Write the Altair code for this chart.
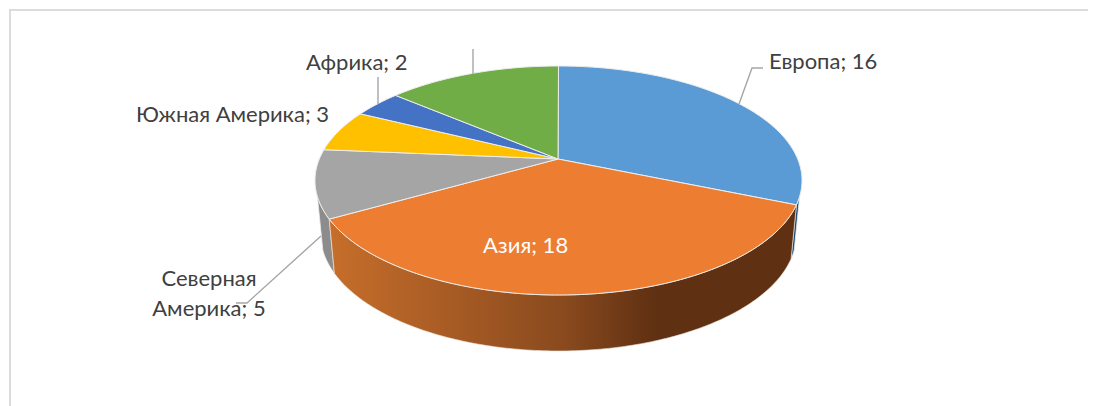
import numpy as np
import pandas as pd
import altair as alt

categories = ["Европа", "Азия", "Северная Америка", "Южная Америка", "Африка", "Австралия"]
values = [16, 18, 5, 3, 2, 6]
colors = ["#5B9BD5", "#ED7D31", "#A5A5A5", "#FFC000", "#4472C4", "#70AD47"]

label_lines = ["Европа; 16", "Африка; 2", "Южная Америка; 3", "Северная", "Америка; 5", "Азия; 18"]
label_x = [769, 306, 136, 209, 209, 483]
label_y = [62, 63, 115, 279, 309, 246]
label_align = ["left", "left", "left", "center", "center", "left"]
label_color = ["#404040", "#404040", "#404040", "#404040", "#404040", "#FFFFFF"]

leaders = [
    [(739, 104), (752, 68), (763, 68)],
    [(378, 77), (378, 104)],
    [(473, 49), (473, 74)],
    [(321, 236), (247, 303), (236, 303)],
]

# Projection of the tilted disc (picture pixels, page margin included)
CX, CY, RX, RY = 558.5, 180.5, 243.5, 114.5
CXB, CYB, RXB, RYB = 558.5, 234.0, 238.0, 117.0
PIVOT = (558.0, 159.0)

cum = np.cumsum([0] + values) / sum(values) * 360.0
warped = [0.0, 102.3, 250.3, 285.6, 305.6, 318.0, 360.0]


def warp(a):
    return float(np.interp(a, cum, warped))


def rim(t, bottom=False):
    r = np.radians(t)
    if bottom:
        return CXB + RXB * np.sin(r), CYB - RYB * np.cos(r)
    return CX + RX * np.sin(r), CY - RY * np.cos(r)


def arc(a, b, bottom=False):
    n = max(2, int(abs(b - a)) + 2)
    return [rim(t, bottom) for t in np.linspace(a, b, n)]


X = alt.X("x:Q", scale=alt.Scale(domain=[8, 1088], nice=False, zero=False), axis=None)
Y = alt.Y("y:Q", scale=alt.Scale(domain=[406, 8], nice=False, zero=False), axis=None)


def poly(points, **mark):
    df = pd.DataFrame(points, columns=["x", "y"])
    df["i"] = range(len(df))
    return alt.Chart(df).mark_line(interpolate="linear", clip=False, **mark).encode(
        x=X, y=Y, order=alt.Order("i:Q")
    )


layers = []

# frame
layers.append(poly([(10, 406), (10, 10), (1088, 10)], stroke="#DCDCDC", strokeWidth=2))

# sides
t_eu = warp(cum[1])
t_as = warp(cum[2])
sliver = arc(98, t_eu) + arc(t_eu, 98, True)
layers.append(poly(sliver + [sliver[0]], fill="#1F4E79", stroke="#EEEEEE", strokeWidth=0.8))
grey_side = arc(t_as, 262) + arc(262, t_as, True)
layers.append(poly(grey_side + [grey_side[0]], fill="#8C8C8C", stroke="#EEEEEE", strokeWidth=0.8))
asia_side = arc(t_eu, t_as) + arc(t_as, t_eu, True)
gradient = alt.LinearGradient(
    gradient="linear", x1=0, y1=0, x2=1, y2=0,
    stops=[
        alt.GradientStop(offset=0, color="#C66E2B"),
        alt.GradientStop(offset=0.5, color="#8A4A1E"),
        alt.GradientStop(offset=0.7, color="#5F3012"),
        alt.GradientStop(offset=1, color="#5F3012"),
    ],
)
layers.append(poly(asia_side + [asia_side[0]], fill=gradient, stroke="#F2E6DC", strokeWidth=0.6))

# top faces
for i, c in enumerate(colors):
    a, b = warp(cum[i]), warp(cum[i + 1])
    pts = [PIVOT] + arc(a, b) + [PIVOT]
    layers.append(poly(pts, fill=c, stroke="#EDEDED", strokeWidth=1))

# leader lines
for line in leaders:
    layers.append(poly(line, stroke="#A6A6A6", strokeWidth=1.4))

# labels
labels = pd.DataFrame({"x": label_x, "y": label_y, "t": label_lines, "a": label_align, "c": label_color})
for al in ["left", "center"]:
    layers.append(
        alt.Chart(labels[labels.a == al]).mark_text(
            font="Lato", fontSize=22, align=al, baseline="middle"
        ).encode(x=X, y=Y, text="t:N", color=alt.Color("c:N", scale=None, legend=None))
    )

chart = alt.layer(*layers).properties(
    width=1080, height=398, padding=0, autosize=alt.AutoSizeParams(type="none")
).configure_view(stroke=None)
chart.save("out.html", embed_options={"renderer": "svg", "actions": False})
